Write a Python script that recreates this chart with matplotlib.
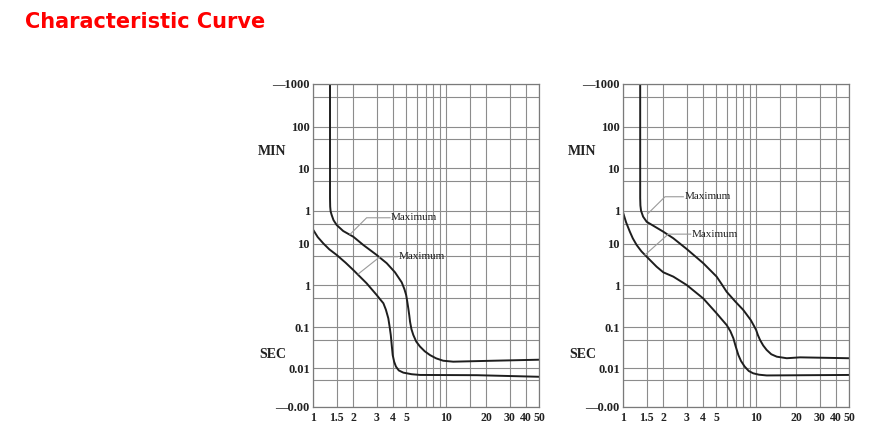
import numpy as np
import matplotlib.pyplot as plt
from matplotlib.ticker import FixedLocator, FixedFormatter, NullFormatter

# y axis: printed labels, the times (s) they stand for, and their spacing on the sheet
tick_times = [0.001, 0.01, 0.1, 1, 10, 60, 600, 6000, 60000]
tick_labels = ['\u20140.00', '0.01', '0.1', '1', '10', '1', '10', '100', '\u20141000']
tick_spacing = [0, 38.2, 79.2, 121.5, 162.5, 195.8, 238.2, 279.8, 322.5]
half_times = [0.005, 0.05, 0.5, 5, 30, 300, 3000, 30000]

# x axis: multiples of rated current
x_ticks = [1, 1.5, 2, 3, 4, 5, 10, 20, 30, 40, 50]
x_labels = ['1', '1.5', '2', '3', '4', '5', '10', '20', '30', '40', '50']
x_minor = [6, 7, 8, 9, 15]

# left sheet
left_upper_x = [1.336, 1.336, 1.34, 1.35, 1.375, 1.42, 1.5, 1.68, 2.0, 2.38, 3.0, 3.57, 4.12,
                4.63, 4.85, 5.0, 5.1, 5.19, 5.28, 5.35, 5.48, 5.66, 5.95, 6.35, 6.9, 7.56,
                8.4, 9.5, 11.3, 22.6, 50]
left_upper_t = [60000, 120, 75, 58, 47.6, 36, 27.7, 20.1, 14.8, 9.45, 5.4, 3.4, 2.04,
                1.16, 0.8, 0.58, 0.4, 0.28, 0.19, 0.135, 0.09, 0.065, 0.045, 0.034, 0.026, 0.021,
                0.0175, 0.0153, 0.0145, 0.0153, 0.0162]
left_lower_x = [1.0, 1.08, 1.19, 1.32, 1.5, 1.75, 2.0, 2.52, 3.0, 3.2, 3.37, 3.52, 3.67, 3.76,
                3.83, 3.9, 3.96, 4.06, 4.19, 4.4, 4.76, 5.5, 6.35, 17, 50]
left_lower_t = [21.2, 14.5, 10.3, 7.4, 5.4, 3.5, 2.32, 1.1, 0.58, 0.45, 0.37, 0.26, 0.163, 0.1,
                0.065, 0.035, 0.021, 0.0145, 0.011, 0.0088, 0.0077, 0.007, 0.0067, 0.0066, 0.006]

# right sheet
right_upper_x = [1.34, 1.34, 1.345, 1.36, 1.41, 1.5, 1.68, 2.0, 2.38, 3.0, 4.0, 5.04, 5.5, 6.0,
                 7.0, 8.0, 9.1, 9.6, 10.0, 10.3, 10.7, 11.3, 12.0, 13.0, 14.3, 17, 21.4, 50]
right_upper_t = [60000, 120, 80, 60, 43.5, 33, 26.8, 19.4, 13.6, 7.55, 3.4, 1.6, 1.05, 0.69,
                 0.40, 0.257, 0.149, 0.11, 0.086, 0.065, 0.049, 0.036, 0.028, 0.022, 0.0192,
                 0.0176, 0.0185, 0.0176]
right_lower_x = [1.0, 1.05, 1.12, 1.18, 1.26, 1.37, 1.5, 1.78, 2.0, 2.38, 3.0, 4.0, 5.04, 5.5,
                 6.0, 6.4, 6.74, 7.0, 7.35, 7.7, 8.2, 8.8, 9.5, 10.5, 12, 50]
right_lower_t = [52, 32, 19.4, 13.5, 9.45, 6.6, 4.9, 2.8, 2.04, 1.6, 1.0, 0.48, 0.214, 0.155,
                 0.113, 0.08, 0.054, 0.035, 0.021, 0.015, 0.011, 0.0085, 0.0074, 0.0068,
                 0.0065, 0.0067]

# "Maximum" call-outs: (curve point, knee, text start)
left_notes = [((1.89, 16.8), (2.52, 41), (3.78, 41)),
              ((2.18, 1.86), (3.18, 4.9), (4.29, 4.9))]
right_notes = [((1.52, 50), (2.06, 128), (2.83, 128)),
               ((1.456, 5.4), (2.18, 17), (3.22, 17))]

log_times = np.log10(tick_times)


def forward(t):
    t = np.clip(np.asarray(t, dtype=float), 1e-9, None)
    return np.interp(np.log10(t), log_times, tick_spacing)


def inverse(u):
    return 10 ** np.interp(u, tick_spacing, log_times)


grid_c = '#8c8c8c'
curve_c = '#1e1e1e'
serif = 'Liberation Serif'

fig = plt.figure(figsize=(8.84, 4.37), dpi=100)
fig.text(25 / 884, 1 - 22 / 437, 'Characteristic Curve', color='#ff0000',
         fontsize=15, fontweight='bold', family='DejaVu Sans', va='center', ha='left')


def draw_sheet(left_px, curves, notes):
    ax = fig.add_axes([left_px / 884, (437 - 406.5) / 437, 225.7 / 884, 322.5 / 437])
    ax.set_xscale('log')
    ax.set_yscale('function', functions=(forward, inverse))
    ax.set_xlim(1, 50)
    ax.set_ylim(0.001, 60000)

    ax.xaxis.set_major_locator(FixedLocator(x_ticks))
    ax.xaxis.set_major_formatter(FixedFormatter(x_labels))
    ax.xaxis.set_minor_locator(FixedLocator(x_minor))
    ax.xaxis.set_minor_formatter(NullFormatter())
    ax.yaxis.set_major_locator(FixedLocator(tick_times))
    ax.yaxis.set_major_formatter(FixedFormatter(tick_labels))
    ax.yaxis.set_minor_locator(FixedLocator(half_times))
    ax.yaxis.set_minor_formatter(NullFormatter())

    ax.grid(True, which='both', color=grid_c, lw=0.8)
    ax.tick_params(which='both', length=0)
    ax.tick_params(axis='y', pad=2.5)
    ax.tick_params(axis='x', pad=4)
    for lab in ax.get_xticklabels():
        lab.set_family(serif)
        lab.set_fontweight('bold')
        lab.set_fontsize(8.5)
        lab.set_color('#222222')
    for lab in ax.get_yticklabels():
        lab.set_family(serif)
        lab.set_fontweight('bold')
        lab.set_fontsize(9)
        lab.set_color('#222222')
    for s in ax.spines.values():
        s.set_color('#7a7a7a')
        s.set_linewidth(0.9)

    for xs, ts in curves:
        ax.plot(xs, ts, color=curve_c, lw=1.4, solid_joinstyle='round')

    for end, knee, start in notes:
        ax.plot([end[0], knee[0], start[0]], [end[1], knee[1], start[1]],
                color='#9a9a9a', lw=0.8)
        ax.text(start[0] * 1.02, start[1], 'Maximum', family=serif, fontsize=8,
                va='center', ha='left', color='#222222')

    ax.text(-0.118, 1560, 'MIN', transform=ax.get_yaxis_transform(), family=serif,
            fontweight='bold', fontsize=10, ha='right', va='center', color='#222222')
    ax.text(-0.118, 0.0223, 'SEC', transform=ax.get_yaxis_transform(), family=serif,
            fontweight='bold', fontsize=10, ha='right', va='center', color='#222222')
    return ax


draw_sheet(313.3, [(left_upper_x, left_upper_t), (left_lower_x, left_lower_t)], left_notes)
draw_sheet(623.3, [(right_upper_x, right_upper_t), (right_lower_x, right_lower_t)], right_notes)

fig.savefig('out.png', dpi=100)
